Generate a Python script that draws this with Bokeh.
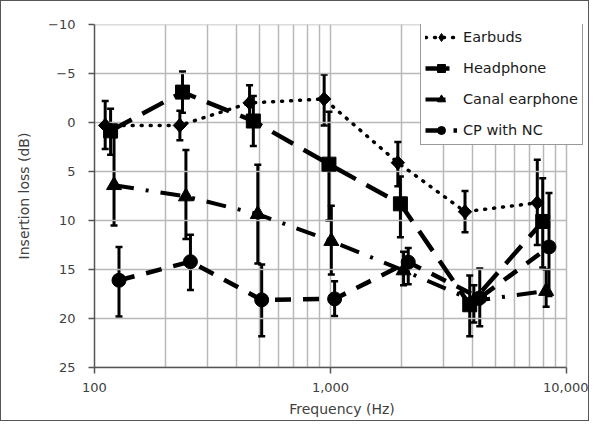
import numpy as np
from bokeh.plotting import figure
from bokeh.models import (Range1d, FixedTicker, NumeralTickFormatter, Whisker, TeeHead,
                          ColumnDataSource, Legend, LegendItem)
from bokeh.embed import file_html
from bokeh.resources import INLINE

# ---- data ----
series_names = ["Earbuds", "Headphone", "Canal earphone", "CP with NC"]

earbuds_freq = [111, 230, 454, 940, 1929, 3715, 7520]
earbuds_val = [0.3, 0.3, -2.0, -2.4, 4.1, 9.1, 8.2]
earbuds_lo = [-2.2, -1.2, -3.8, -4.9, 2.0, 7.0, 3.8]
earbuds_hi = [2.7, 1.8, -0.3, 0.3, 6.5, 11.2, 12.5]

headphone_freq = [117, 236, 471, 985, 1978, 3890, 7930]
headphone_val = [0.85, -3.1, -0.15, 4.25, 8.3, 18.6, 10.1]
headphone_lo = [-1.4, -5.2, -2.7, -1.1, 5.5, 15.6, 5.7]
headphone_hi = [3.3, -1.0, 2.4, 10.0, 11.7, 21.8, 14.8]

canal_freq = [121, 244, 492, 1008, 2040, 4050, 8200]
canal_val = [6.4, 7.55, 9.35, 12.1, 15.1, 18.2, 17.2]
canal_lo = [1.5, 2.8, 4.3, 8.5, 13.2, 16.6, 15.0]
canal_hi = [10.5, 11.9, 14.4, 15.5, 16.6, 20.4, 18.8]

cp_freq = [127, 255, 511, 1041, 2135, 4290, 8430]
cp_val = [16.1, 14.2, 18.1, 18.0, 14.25, 17.9, 12.7]
cp_lo = [12.7, 11.45, 14.5, 16.2, 12.8, 14.9, 7.2]
cp_hi = [19.8, 17.1, 21.8, 19.75, 16.5, 20.8, 17.7]

y_ticks = [-10, -5, 0, 5, 10, 15, 20, 25]
x_major_ticks = [100, 1000, 10000]
x_grid_ticks = [100, 200, 300, 400, 500, 600, 700, 800, 900,
                1000, 2000, 3000, 4000, 5000, 6000, 7000, 8000, 9000, 10000]

FONT = "DejaVu Sans"
TXT = "#404040"
GRID = "#b8b8b8"

# layout (pixels): frame extends right so the legend can overhang the data area
W, H = 589, 421
LEFT, TOP, BOTTOM = 93, 23, 55
FRAME_W = W - LEFT - 1
DATA_W = 472  # pixels from 100 Hz to 10 kHz
x_end = 10 ** (2 + 2 * FRAME_W / DATA_W)

p = figure(width=W, height=H, x_axis_type="log",
           x_range=Range1d(100, x_end), y_range=Range1d(25, -10),
           output_backend="svg", toolbar_location=None,
           min_border_left=LEFT, min_border_right=1, min_border_top=TOP, min_border_bottom=BOTTOM)
p.styles = {"border": "1px solid #555555"}
p.outline_line_color = None
p.background_fill_color = "white"
p.border_fill_color = "white"

# grid: vertical lines from the grid, horizontal lines only across the data span
p.xgrid.ticker = FixedTicker(ticks=x_grid_ticks)
p.xgrid.grid_line_color = GRID
p.xgrid.grid_line_width = 1.5
p.ygrid.visible = False
p.segment(x0=[x_grid_ticks[0]] * len(y_ticks), x1=[x_grid_ticks[-1]] * len(y_ticks),
          y0=y_ticks, y1=y_ticks, line_color=GRID, line_width=1.5)

# axes
p.xaxis.ticker = FixedTicker(ticks=x_major_ticks, minor_ticks=[])
p.xaxis.formatter = NumeralTickFormatter(format="0,0")
p.xaxis.bounds = (x_major_ticks[0], x_major_ticks[-1])
p.yaxis.ticker = FixedTicker(ticks=y_ticks, minor_ticks=[])
for ax in (p.xaxis, p.yaxis):
    ax.axis_line_color = "#555555"
    ax.axis_line_width = 1.5
    ax.major_tick_line_color = "#555555"
    ax.major_tick_line_width = 1.5
    ax.major_tick_in = 0
    ax.major_tick_out = 6
    ax.minor_tick_line_color = None
    ax.major_label_text_font = FONT
    ax.major_label_text_font_size = "13px"
    ax.major_label_text_color = TXT
    ax.axis_label_text_font = FONT
    ax.axis_label_text_font_size = "14px"
    ax.axis_label_text_font_style = "normal"
    ax.axis_label_text_color = TXT
p.xaxis.axis_label = "Frequency (Hz)"
p.yaxis.axis_label = "Insertion loss (dB)"
p.xaxis.major_label_standoff = 9
p.xaxis.axis_label_standoff = 6
p.yaxis.major_label_standoff = 13
p.yaxis.axis_label_standoff = 13

series = [
    (earbuds_freq, earbuds_val, earbuds_lo, earbuds_hi, dict(line_dash="1 8", line_cap="round", line_width=3.5),
     dict(marker="square", size=9.5, angle=np.pi / 4)),
    (headphone_freq, headphone_val, headphone_lo, headphone_hi, dict(line_dash="24 12", line_width=4.5),
     dict(marker="square", size=14)),
    (canal_freq, canal_val, canal_lo, canal_hi, dict(line_dash="20 12 3 12", line_width=4),
     dict(marker="triangle", size=15)),
    (cp_freq, cp_val, cp_lo, cp_hi, dict(line_dash="16 12", line_width=4.5),
     dict(marker="circle", size=14)),
]

items = []
for i, (name, (fx, fv, lo, hi, lstyle, mstyle)) in enumerate(zip(series_names, series)):
    src = ColumnDataSource(dict(x=fx, y=fv, lo=lo, hi=hi))
    ln = p.line("x", "y", source=src, line_color="black", **lstyle)
    w = Whisker(base="x", lower="lo", upper="hi", source=src, dimension="height",
                line_color="black", line_width=3,
                lower_head=TeeHead(size=7, line_width=2.5, line_color="black"),
                upper_head=TeeHead(size=7, line_width=2.5, line_color="black"))
    p.add_layout(w)
    leg_marker = None
    if i == 0:
        # an (unrotated) diamond hidden under the rotated square, used for the legend swatch
        leg_marker = p.scatter("x", "y", source=src, marker="diamond", size=15,
                               fill_color="black", line_color="black")
    sc = p.scatter("x", "y", source=src, fill_color="black", line_color="black", **mstyle)
    items.append(LegendItem(label=name, renderers=[ln, leg_marker if leg_marker is not None else sc]))

legend = Legend(items=items, location=(326, 222),
                label_text_font=FONT, label_text_font_size="14.5px", label_text_color="#1a1a1a",
                glyph_width=32, glyph_height=20, label_height=20, spacing=11,
                padding=4, margin=0, label_standoff=6,
                border_line_color="#333333", border_line_width=1.2,
                background_fill_color="white", background_fill_alpha=1)
p.add_layout(legend, "center")

open("out.html", "w").write(file_html(p, INLINE))
